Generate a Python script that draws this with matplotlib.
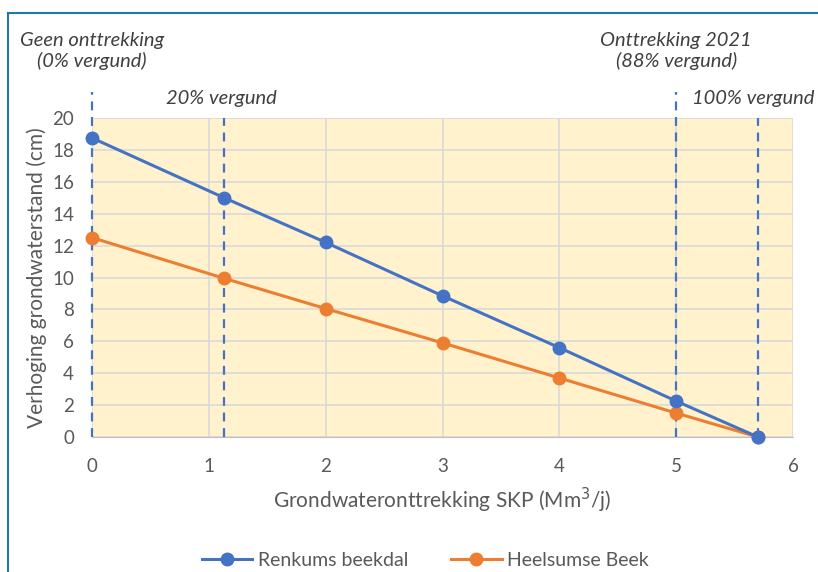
import matplotlib.pyplot as plt
from matplotlib.lines import Line2D

plt.rcParams['font.family'] = ['Lato', 'DejaVu Sans']

# onttrekking (Mm3/j)
x_vals = [0, 1.13, 2, 3, 4, 5, 5.7]
renkum = [18.75, 15.0, 12.2, 8.85, 5.6, 2.25, 0.0]
heelsum = [12.5, 9.95, 8.05, 5.9, 3.7, 1.5, 0.0]

# verticale referentielijnen (x, bovenkant)
ref_x = [0, 1.13, 5.0, 5.7]
ref_top = [21.6, 20, 21.6, 20]

blue = '#4472C4'
orange = '#ED7D31'
grey = '#595959'

fig = plt.figure(figsize=(8.18, 5.72), dpi=100)
ax = fig.add_axes([0.1125, 0.236, 0.857, 0.5577])

ax.set_xlim(0, 6)
ax.set_ylim(0, 20)
ax.set_facecolor('#FFF2CC')
ax.set_xticks(range(0, 7))
ax.set_yticks(range(0, 21, 2))
ax.grid(True, color='#D9D9D9', lw=1.2)
ax.set_axisbelow(True)
for s in ['top', 'right', 'left']:
    ax.spines[s].set_visible(False)
ax.spines['bottom'].set_color('#BFBFBF')
ax.tick_params(length=0, labelsize=13.5, colors=grey)
ax.tick_params(axis='x', pad=15)
ax.tick_params(axis='y', pad=13)

for xv, top in zip(ref_x, ref_top):
    ax.plot([xv, xv], [0, top], ls=(0, (4, 3)), color=blue, lw=1.6,
            clip_on=False, zorder=2)

ax.plot(x_vals, renkum, color=blue, lw=2.2, marker='o', ms=9, zorder=4,
        clip_on=False, label='Renkums beekdal')
ax.plot(x_vals, heelsum, color=orange, lw=2.2, marker='o', ms=9, zorder=3,
        clip_on=False, label='Heelsumse Beek')

ax.set_xlabel('Grondwateronttrekking SKP (Mm$^3$/j)', fontsize=15, color=grey, labelpad=8)
ax.set_ylabel('Verhoging grondwaterstand (cm)', fontsize=15, color=grey, labelpad=4)

txt = dict(fontsize=14.5, style='italic', color='#404040', ha='center')
ax.text(0, 24.2, 'Geen onttrekking\n(0% vergund)', va='center', linespacing=1.2, **txt)
ax.text(5.0, 24.2, 'Onttrekking 2021\n(88% vergund)', va='center', linespacing=1.2, **txt)
ax.text(1.11, 21.2, '20% vergund', va='center', **txt)
ax.text(5.66, 21.2, '100% vergund', va='center', **txt)

fig.legend(loc='lower center', bbox_to_anchor=(0.52, -0.025), ncol=2, frameon=False,
           fontsize=14, labelcolor=grey, handlelength=2.6, handletextpad=0.3,
           columnspacing=2.2)

# kader
fig.add_artist(Line2D([0.0098, 1.0], [0.977, 0.977], color='#1F77A8', lw=1.5))
fig.add_artist(Line2D([0.0098, 0.0098], [0.0, 0.977], color='#1F77A8', lw=1.5))

fig.savefig('out.png', dpi=100)
